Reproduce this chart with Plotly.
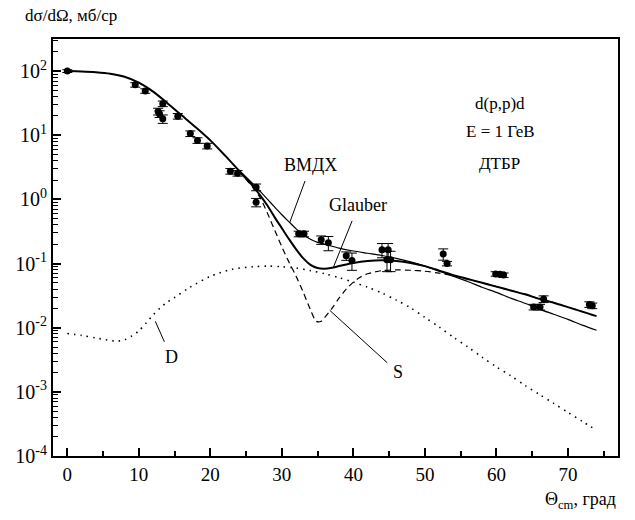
import plotly.graph_objects as go

# Experimental d(p,p)d cross section at E = 1 GeV (theta_cm in degrees, mb/sr)
theta_exp = [0, 9.5, 10.9, 12.7, 12.9, 13.35, 13.35, 15.45, 17.2, 18.2, 19.56,
             22.8, 23.8, 26.4, 26.4, 32.35, 33.1, 35.5, 36.5, 39.0, 39.8,
             44.0, 44.86, 44.7, 45.2, 52.56, 53.1, 59.9, 60.5, 61.0,
             65.2, 66.1, 66.6, 73.0, 73.4]
sigma_exp = [100, 61, 49, 23.5, 21.5, 31, 18, 19.8, 10.6, 8.3, 6.8,
             2.75, 2.56, 1.55, 0.9, 0.29, 0.29, 0.234, 0.211, 0.132, 0.112,
             0.164, 0.164, 0.115, 0.115, 0.141, 0.10, 0.069, 0.068, 0.066,
             0.021, 0.021, 0.028, 0.023, 0.022]
rel_err = [0.05, 0.08, 0.08, 0.12, 0.12, 0.1, 0.15, 0.1, 0.1, 0.1, 0.1,
           0.1, 0.1, 0.12, 0.15, 0.1, 0.1, 0.15, 0.25, 0.15, 0.3,
           0.25, 0.25, 0.35, 0.35, 0.2, 0.08, 0.08, 0.08, 0.08,
           0.1, 0.1, 0.12, 0.1, 0.1]

# Theory curves, log10(dsigma/dOmega)
theta_main = [0, 2, 4, 6, 8, 10, 12, 14, 16, 18, 20, 22, 24, 26]
lg_main = [2.00, 1.995, 1.983, 1.960, 1.912, 1.82, 1.68, 1.50, 1.31, 1.12,
           0.92, 0.69, 0.45, 0.23]

theta_vmdx = [26, 27, 28, 29, 30, 31, 32, 33, 34, 35, 36, 38, 40, 42, 44, 46,
              48, 50, 52, 54, 56, 58, 60, 62, 64, 66, 68, 70, 72, 74]
lg_vmdx = [0.23, 0.12, 0.00, -0.12, -0.24, -0.35, -0.46, -0.55, -0.62, -0.67,
           -0.70, -0.76, -0.805, -0.84, -0.875, -0.92, -0.975, -1.04, -1.12,
           -1.20, -1.28, -1.37, -1.45, -1.54, -1.62, -1.71, -1.79, -1.87,
           -1.96, -2.04]

theta_glauber = [24, 26, 27, 28, 29, 30, 31, 32, 33, 34, 35, 36, 37, 38, 40,
                 42, 44, 46, 48, 50, 52, 54, 56, 58, 60, 62, 64, 66, 68, 70,
                 72, 74]
lg_glauber = [0.44, 0.20, 0.06, -0.10, -0.28, -0.45, -0.62, -0.78, -0.92,
              -1.02, -1.07, -1.08, -1.065, -1.04, -0.99, -0.96, -0.95, -0.96,
              -0.99, -1.04, -1.11, -1.18, -1.24, -1.30, -1.36, -1.42, -1.48,
              -1.55, -1.61, -1.68, -1.75, -1.82]

theta_s = [24, 26, 27, 28, 29, 30, 31, 32, 33, 34, 34.8, 35.5, 36, 37, 38, 39,
           40, 41, 42, 44, 46, 48, 50, 52, 54, 56, 58, 60, 62, 64, 66, 68, 70,
           72, 74]
lg_s = [0.44, 0.18, 0.02, -0.22, -0.48, -0.74, -0.98, -1.20, -1.45, -1.72,
        -1.90, -1.90, -1.84, -1.70, -1.54, -1.40, -1.29, -1.21, -1.16, -1.11,
        -1.10, -1.105, -1.12, -1.15, -1.19, -1.245, -1.30, -1.36, -1.42,
        -1.48, -1.55, -1.61, -1.68, -1.75, -1.83]

theta_d = [0, 2, 4, 6, 7, 8, 9, 10, 11, 12, 13, 14, 15, 17, 20, 23, 26, 28,
           30, 32, 34, 36, 38, 40, 42, 44, 46, 48, 50, 52, 54, 56, 58, 60, 62,
           64, 66, 68, 70, 72, 74]
lg_d = [-2.09, -2.12, -2.16, -2.20, -2.21, -2.19, -2.13, -2.05, -1.93, -1.80,
        -1.69, -1.60, -1.53, -1.38, -1.20, -1.09, -1.05, -1.04, -1.05, -1.07,
        -1.11, -1.16, -1.22, -1.29, -1.37, -1.46, -1.57, -1.69, -1.84, -1.99,
        -2.15, -2.30, -2.46, -2.61, -2.75, -2.90, -3.04, -3.18, -3.32, -3.46,
        -3.60]

x_ticks = [0, 10, 20, 30, 40, 50, 60, 70]
y_decades = [-4, -3, -2, -1, 0, 1, 2]

SERIF = "Liberation Serif, Times New Roman, serif"

fig = go.Figure()


def curve(xs, lgs, width, dash):
    fig.add_trace(go.Scatter(
        x=xs, y=[10 ** v for v in lgs], mode="lines",
        line=dict(color="black", width=width, dash=dash, shape="spline",
                  smoothing=0.8),
        showlegend=False, hoverinfo="skip"))


curve(theta_d, lg_d, 1.6, "1.5px,5px")
curve(theta_s, lg_s, 1.2, "6px,4px")
curve(theta_vmdx, lg_vmdx, 1.2, "solid")
curve(theta_glauber, lg_glauber, 2.0, "solid")
curve(theta_main, lg_main, 2.0, "solid")

fig.add_trace(go.Scatter(
    x=theta_exp, y=sigma_exp, mode="markers",
    marker=dict(color="black", size=7),
    error_y=dict(type="data", symmetric=False,
                 array=[v * e for v, e in zip(sigma_exp, rel_err)],
                 arrayminus=[v * e for v, e in zip(sigma_exp, rel_err)],
                 color="black", thickness=1, width=5),
    showlegend=False, hoverinfo="skip"))

L, R, T, B = 53, 17, 39, 64
W, H = 635, 520
pw, ph = W - L - R, H - T - B


def px(xp, yp):
    return (xp - L) / pw, (H - B - yp) / ph


annotations = []


def text_at(xp, yp, s, size=18, anchor="center"):
    x, y = px(xp, yp)
    annotations.append(dict(x=x, y=y, xref="paper", yref="paper", text=s,
                            showarrow=False, xanchor=anchor, yanchor="middle",
                            font=dict(family=SERIF, size=size, color="black")))


text_at(23, 16, "dσ/dΩ, мб/ср", size=17, anchor="left")
text_at(618, 500, "Θ<sub>cm</sub>, град", size=18, anchor="right")
text_at(500, 103, "d(p,p)d", size=17)
text_at(500, 131, "E = 1 ГеВ", size=17)
text_at(499, 163, "ДТБР", size=17)


def label(theta, lg, s, ax, ay):
    annotations.append(dict(x=theta, y=lg, xref="x", yref="y", text=s,
                            showarrow=True, arrowhead=0, arrowwidth=1,
                            arrowcolor="black", ax=ax, ay=ay, standoff=0,
                            borderpad=5,
                            font=dict(family=SERIF, size=18, color="black")))


label(31.1, -0.36, "ВМДХ", 21, -57)
label(37.2, -1.06, "Glauber", 25, -62)
label(12.3, -1.90, "D", 16, 36)
label(36.7, -1.73, "S", 68, 62)

minor_y = [k * 10 ** n for n in range(-4, 3) for k in range(2, 10)
           if k * 10 ** n <= 10 ** 2.5]

fig.update_layout(
    width=W, height=H,
    margin=dict(l=L, r=R, t=T, b=B),
    paper_bgcolor="white", plot_bgcolor="white",
    font=dict(family=SERIF, size=18, color="black"),
    annotations=annotations,
    xaxis=dict(range=[-2, 77], showgrid=False, zeroline=False,
               showline=True, linecolor="black", linewidth=2, mirror=True,
               ticks="inside", ticklen=8, tickwidth=1.5, tickcolor="black",
               tickmode="array", tickvals=x_ticks,
               ticktext=[str(v) for v in x_ticks],
               tickfont=dict(family=SERIF, size=19),
               minor=dict(ticks="inside", ticklen=5, tickwidth=1.5,
                          tickcolor="black", dtick=5, tick0=0)),
    yaxis=dict(type="log", range=[-4, 2.5], showgrid=False, zeroline=False,
               showline=True, linecolor="black", linewidth=2, mirror=True,
               ticks="inside", ticklen=8, tickwidth=1.5, tickcolor="black",
               tickmode="array", tickvals=[10 ** d for d in y_decades],
               ticktext=["10<sup>%d</sup>" % d for d in y_decades],
               tickfont=dict(family=SERIF, size=20),
               minor=dict(ticks="inside", ticklen=5, tickwidth=1,
                          tickcolor="black", tickmode="array",
                          tickvals=minor_y)),
)

fig.write_html("out.html")
